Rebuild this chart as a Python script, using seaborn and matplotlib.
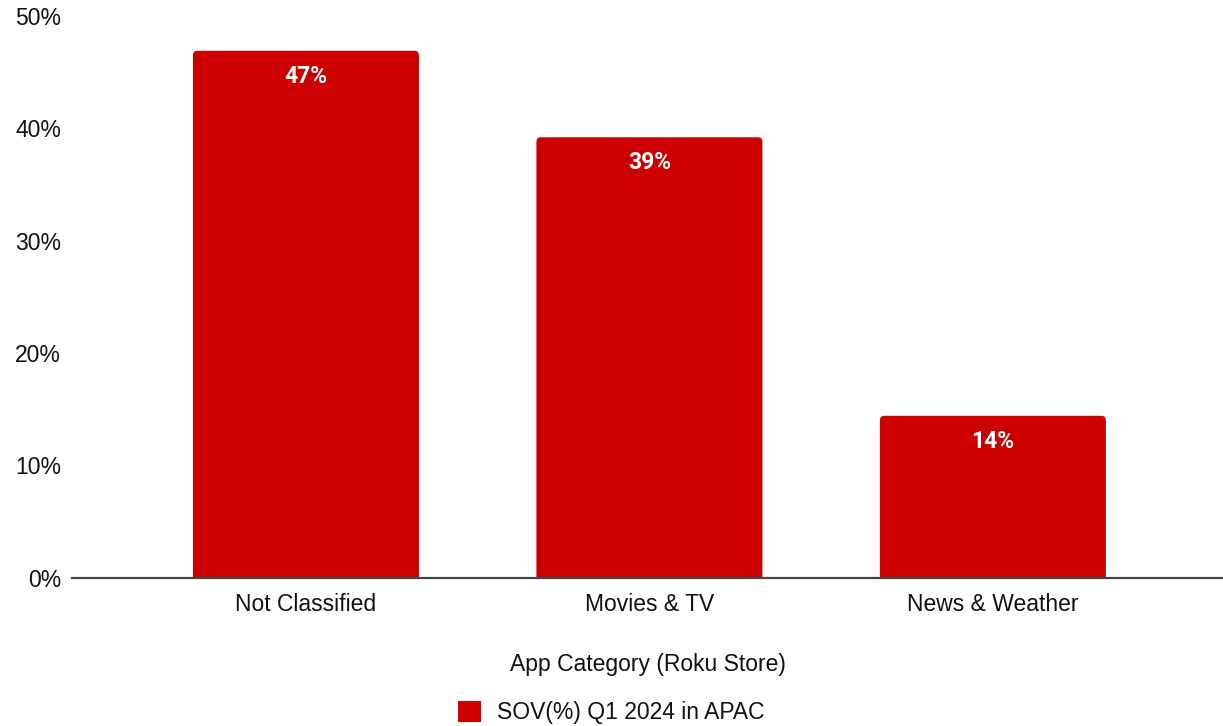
import matplotlib
matplotlib.use("Agg")
import matplotlib.pyplot as plt
import seaborn as sns
import pandas as pd
from matplotlib.ticker import FuncFormatter
from matplotlib.patches import FancyBboxPatch

categories = ["Not Classified", "Movies & TV", "News & Weather"]
sov_values = [46.9, 39.2, 14.4]
series_name = "SOV(%) Q1 2024 in APAC"
x_title = "App Category (Roku Store)"
y_ticks = [0, 10, 20, 30, 40, 50]

df = pd.DataFrame({"category": categories, "sov": sov_values})

sns.set_theme(style="white")
plt.rcParams["font.family"] = ["Liberation Sans", "DejaVu Sans"]

BAR_RED = "#cc0000"
TEXT = "#111111"

fig = plt.figure(figsize=(12.23, 7.26), dpi=100)
ax = fig.add_axes([0.0589, 0.2045, 0.9411, 0.7735])

sns.barplot(data=df, x="category", y="sov", color=BAR_RED, width=0.658,
            saturation=1, ax=ax, label=series_name)
if ax.legend_ is not None:
    ax.legend_.remove()

ax.set_xlim(-0.681, 2.67)
ax.set_ylim(0, 50)
ax.set_yticks(y_ticks)
ax.yaxis.set_major_formatter(FuncFormatter(lambda v, _: f"{v:.0f}%"))
ax.tick_params(axis="y", labelsize=16.5, colors=TEXT, length=0, pad=8)
ax.tick_params(axis="x", labelsize=16.5, colors=TEXT, length=0, pad=11)
ax.set_xlabel(x_title, fontsize=16.5, color=TEXT, labelpad=27)
ax.set_ylabel("")

for side in ["top", "right", "left"]:
    ax.spines[side].set_visible(False)
ax.spines["bottom"].set_color("#444444")
ax.spines["bottom"].set_linewidth(1.6)
ax.spines["bottom"].set_zorder(5)
ax.grid(False)

# redraw the bars with slightly rounded top corners
x_px = 1223 * 0.9411 / (2.67 + 0.681)
y_px = 726 * 0.7735 / 50
aspect = x_px / y_px
bars = list(ax.patches)
for patch in bars:
    x0, w, h = patch.get_x(), patch.get_width(), patch.get_height()
    patch.set_visible(False)
    ax.add_patch(FancyBboxPatch((x0, -2), w, h + 2,
                                boxstyle="round,pad=0,rounding_size=0.013",
                                mutation_aspect=aspect, facecolor=BAR_RED,
                                edgecolor="none", zorder=2))

# value labels inside the top of each bar
for patch, val in zip(bars, sov_values):
    cx = patch.get_x() + patch.get_width() / 2
    ax.annotate(f"{val:.0f}%", xy=(cx, val), xytext=(0, -10),
                textcoords="offset points", ha="center", va="top",
                color="white", fontsize=16.5, fontweight="bold",
                family=["Roboto", "DejaVu Sans"], zorder=3)

handle = plt.Rectangle((0, 0), 1, 1, facecolor=BAR_RED, edgecolor="none")
fig.legend([handle], [series_name], loc="center", bbox_to_anchor=(0.5, 0.018),
           frameon=False, fontsize=16.5, handlelength=1.0, handleheight=1.0,
           handletextpad=0.7, labelcolor=TEXT)

fig.savefig("out.png", dpi=100)
